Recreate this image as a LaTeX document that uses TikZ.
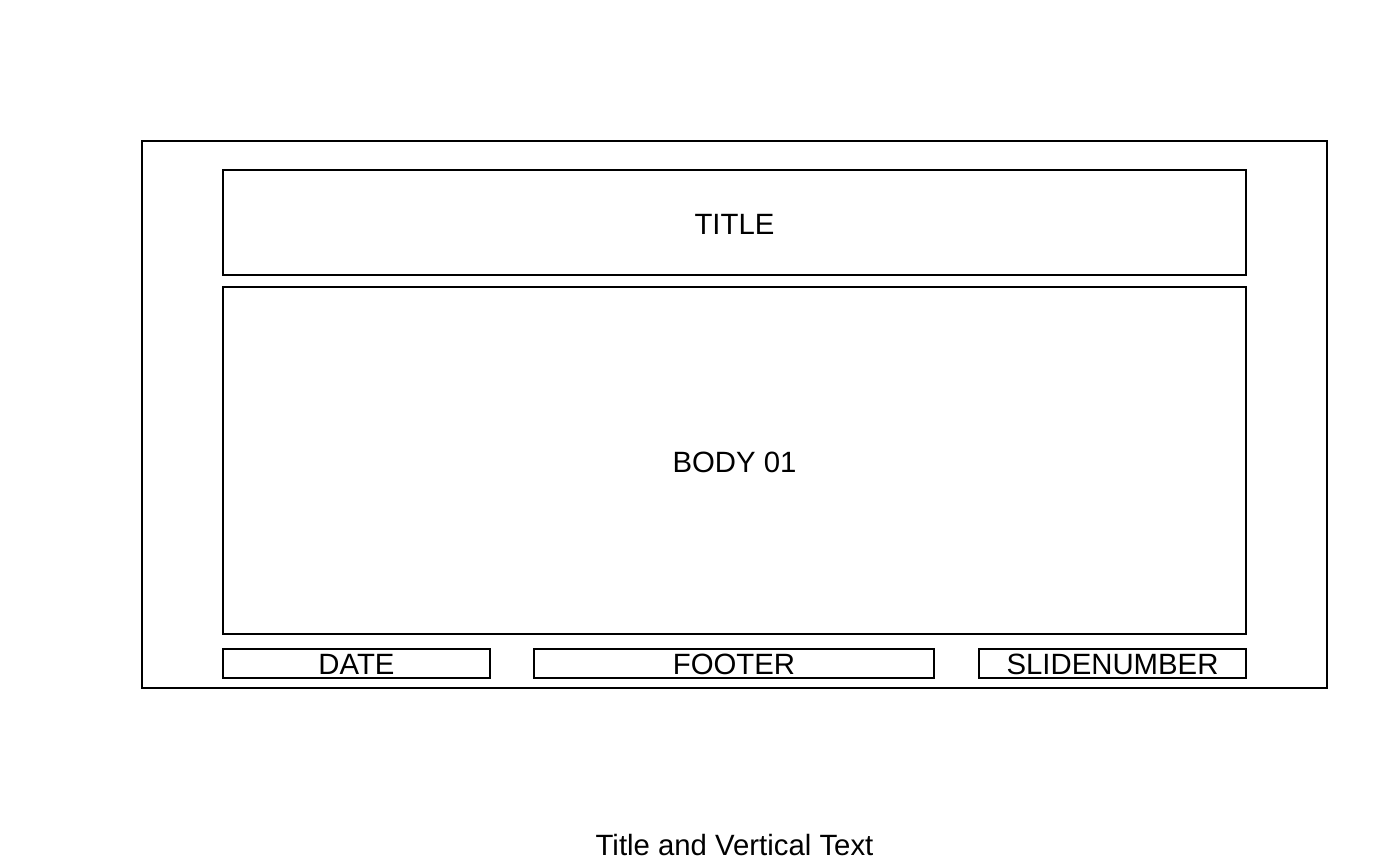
\documentclass[tikz,border=0pt]{standalone}
\usepackage{fontspec}
\setmainfont{Liberation Sans}
\begin{document}
\begin{tikzpicture}[x=0.75pt,y=-0.75pt,
  frame/.style={draw=black,line width=0.8pt,fill=none},
  lbl/.style={font=\fontsize{22}{25}\selectfont,inner sep=0pt,anchor=center}]
\useasboundingbox (0,0) rectangle (1400,865);
\draw[frame] (142,141) rectangle (1327,688);
\draw[frame] (223,170) rectangle (1246,275);
\draw[frame] (223,287) rectangle (1246,634);
\draw[frame] (223,649) rectangle (490,678);
\draw[frame] (534,649) rectangle (934,678);
\draw[frame] (979,649) rectangle (1246,678);
\node[lbl] (title) at (734.5,224) {TITLE};
\node[lbl] (body) at (734.5,462) {BODY 01};
\node[lbl] (date) at (356.5,664) {DATE};
\node[lbl] (footer) at (734,664) {FOOTER};
\node[lbl] (slide) at (1112.5,664) {SLIDENUMBER};
\node[lbl] (caption) at (734.5,845) {Title and Vertical Text};
\end{tikzpicture}
\end{document}
